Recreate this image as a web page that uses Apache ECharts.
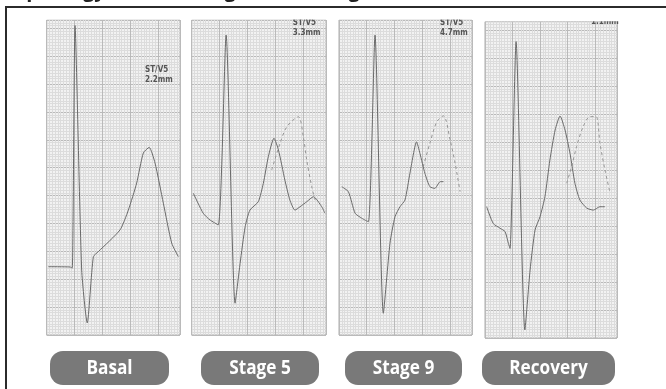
<!DOCTYPE html>
<html><head><meta charset="utf-8">
<script src="https://cdn.jsdelivr.net/npm/echarts@6/dist/echarts.min.js"></script>
<style>html,body{margin:0;padding:0;background:#fff}#c{width:666px;height:389px}</style>
</head><body><div id="c"></div>
<script>
// ---- data (paper units: small squares; time → right, amplitude → up) ----
const panelNames = ['Basal', 'Stage 5', 'Stage 9', 'Recovery'];
const stLead = 'ST/V5';
const stValues = ['2.2mm', '3.3mm', '4.7mm', '1.1mm'];
const titleText = 'Morphology of the ST segment during the exercise stress test';

const basalTime = [0.6, 8.4, 9.2, 10.2, 12.6, 14.6, 16.8, 18.6, 26.4, 29.4, 32.4, 34.8, 36.9, 39.0, 42.0, 45.0, 47.4];
const basalAmp  = [24.5, 24.4, 24.0, 111.0, 23.3, 4.3, 28.1, 29.9, 37.7, 44.8, 54.5, 65.3, 67.3, 61.7, 47.3, 33.0, 28.1];

const stage5Time = [0.6, 4.1, 6.5, 9.5, 12.3, 15.5, 17.3, 19.1, 20.8, 23.8, 25.6, 27.4, 29.4, 31.0, 33.3, 35.1, 36.9, 38.7, 41.1, 43.5, 46.5, 47.6];
const stage5Amp  = [50.8, 43.7, 41.3, 39.5, 107.6, 11.4, 25.7, 38.8, 44.8, 47.8, 54.4, 64.0, 70.6, 66.4, 55.6, 48.4, 44.8, 46.0, 47.8, 49.6, 46.0, 43.7];
const stage5NextTime = [28.6, 31.6, 34.0, 38.1, 39.9, 41.1, 42.9, 44.1];
const stage5NextAmp  = [59.2, 68.8, 74.7, 78.3, 71.1, 62.8, 53.2, 48.4];

const stage9Time = [1.0, 3.4, 5.8, 8.2, 10.6, 13.0, 16.0, 18.4, 20.2, 22.0, 23.8, 25.6, 28.0, 29.2, 31.0, 32.8, 34.6, 36.5, 37.7];
const stage9Amp  = [53.2, 51.4, 43.7, 41.9, 40.6, 107.6, 7.8, 32.9, 42.4, 46.0, 48.4, 58.0, 69.3, 65.2, 58.0, 53.2, 52.6, 55.0, 55.0];
const stage9NextTime = [30.4, 32.8, 35.3, 37.7, 40.1, 41.9, 43.7];
const stage9NextAmp  = [60.4, 68.8, 76.5, 78.6, 70.0, 61.6, 51.4];

const recoveryTime = [0.6, 3.0, 5.5, 7.3, 8.5, 9.1, 11.3, 14.5, 16.4, 18.2, 20.0, 21.8, 23.6, 25.5, 27.3, 29.1, 30.9, 32.7, 34.5, 37.0, 39.4, 41.8, 43.6];
const recoveryAmp  = [46.9, 40.9, 39.2, 38.0, 33.8, 32.0, 105.9, 2.9, 24.3, 38.6, 43.3, 50.5, 63.6, 74.3, 79.3, 74.3, 66.0, 55.3, 49.3, 46.4, 45.7, 46.9, 46.9];
const recoveryNextTime = [29.7, 31.5, 33.3, 35.7, 38.2, 40.4, 41.8, 43.6, 45.5];
const recoveryNextAmp  = [55.3, 61.2, 68.4, 75.5, 79.1, 79.1, 69.6, 60.1, 51.8];

// ---- layout ----
const paperW = 48, paperH = 113;
const panels = [
  {left: 46.7, top: 20, width: 133.3, height: 315},
  {left: 191.7, top: 20, width: 134.3, height: 315},
  {left: 339, top: 20, width: 133, height: 315},
  {left: 485, top: 21.7, width: 132, height: 316.3}
];
const annot = [
  {x: 145, y1: 70, y2: 80},
  {x: 292.7, y1: 23, y2: 33},
  {x: 440, y1: 23, y2: 33},
  {x: 591, y1: 14, y2: 21.5}
];
const pills = [
  {x: 50, w: 119}, {x: 201, w: 118}, {x: 345, w: 117}, {x: 482, w: 133}
];
const pillY = 351, pillH = 34;

const traces = [
  {t: basalTime, v: basalAmp},
  {t: stage5Time, v: stage5Amp, nt: stage5NextTime, nv: stage5NextAmp},
  {t: stage9Time, v: stage9Amp, nt: stage9NextTime, nv: stage9NextAmp},
  {t: recoveryTime, v: recoveryAmp, nt: recoveryNextTime, nv: recoveryNextAmp}
];
const zip = (a, b) => a.map((x, i) => [x, b[i]]);

const grid = [], xAxis = [], yAxis = [], series = [], graphic = [];
const axisCommon = (max) => ({
  type: 'value', min: 0, max: max, interval: 10,
  axisLine: {show: false}, axisTick: {show: false}, axisLabel: {show: false},
  splitLine: {show: true, lineStyle: {color: '#bababa', width: 1}},
  minorTick: {show: false, splitNumber: 10},
  minorSplitLine: {show: true, lineStyle: {color: '#dcdcdc', width: 1}}
});

panels.forEach((p, i) => {
  grid.push({left: p.left, top: p.top, width: p.width, height: p.height,
    show: true, backgroundColor: '#f2f2f2', borderColor: '#adadad', borderWidth: 1});
  xAxis.push(Object.assign({gridIndex: i}, axisCommon(paperW)));
  yAxis.push(Object.assign({gridIndex: i}, axisCommon(paperH)));
  const tr = traces[i];
  series.push({
    name: panelNames[i], type: 'line', xAxisIndex: i, yAxisIndex: i,
    data: zip(tr.t, tr.v), showSymbol: false, smooth: 0.2, silent: true,
    lineStyle: {color: '#6a6a6a', width: 1}, z: 5
  });
  if (tr.nt) {
    series.push({
      name: panelNames[i] + ' (next beat)', type: 'line', xAxisIndex: i, yAxisIndex: i,
      data: zip(tr.nt, tr.nv), showSymbol: false, smooth: 0.3, silent: true,
      lineStyle: {color: '#959595', width: 1, type: [3, 3]}, z: 4
    });
  }
  // ST annotation
  const a = annot[i];
  const f = 'bold 8px "Liberation Sans Narrow", "DejaVu Sans Condensed", sans-serif';
  graphic.push({type: 'text', z: 50, x: a.x, y: a.y1,
    style: {text: stLead, fill: '#555555', font: f, align: 'left', verticalAlign: 'middle'}});
  graphic.push({type: 'text', z: 50, x: a.x, y: a.y2,
    style: {text: stValues[i], fill: '#555555', font: f, align: 'left', verticalAlign: 'middle'}});
  // mask above the strip
  graphic.push({type: 'rect', z: 60, shape: {x: p.left - 3, y: 8, width: p.width + 6, height: p.top - 8.5},
    style: {fill: '#ffffff'}});
  // bottom label pill
  const pl = pills[i];
  graphic.push({type: 'rect', z: 70, shape: {x: pl.x, y: pillY, width: pl.w, height: pillH, r: 13},
    style: {fill: '#797979'}});
  graphic.push({type: 'text', z: 71, x: pl.x + pl.w / 2, y: pillY + pillH / 2 + 0.5, scaleX: 0.86,
    style: {text: panelNames[i], fill: '#ffffff', font: 'bold 20px "Open Sans", sans-serif',
      align: 'center', verticalAlign: 'middle'}});
});

// frame and cut-off title
graphic.push({type: 'line', z: 80, shape: {x1: 5, y1: 7, x2: 666, y2: 7}, style: {stroke: '#2b2b2b', lineWidth: 2}});
graphic.push({type: 'line', z: 80, shape: {x1: 6, y1: 6, x2: 6, y2: 389}, style: {stroke: '#2b2b2b', lineWidth: 2}});
graphic.push({type: 'text', z: 80, x: -14, y: -9,
  style: {text: titleText, fill: '#222', font: 'bold 20px "Open Sans", sans-serif', align: 'left', verticalAlign: 'middle'}});

const chart = echarts.init(document.getElementById('c'), null, {renderer: 'canvas'});
chart.setOption({animation: false, backgroundColor: '#ffffff', grid, xAxis, yAxis, series, graphic});
</script></body></html>
